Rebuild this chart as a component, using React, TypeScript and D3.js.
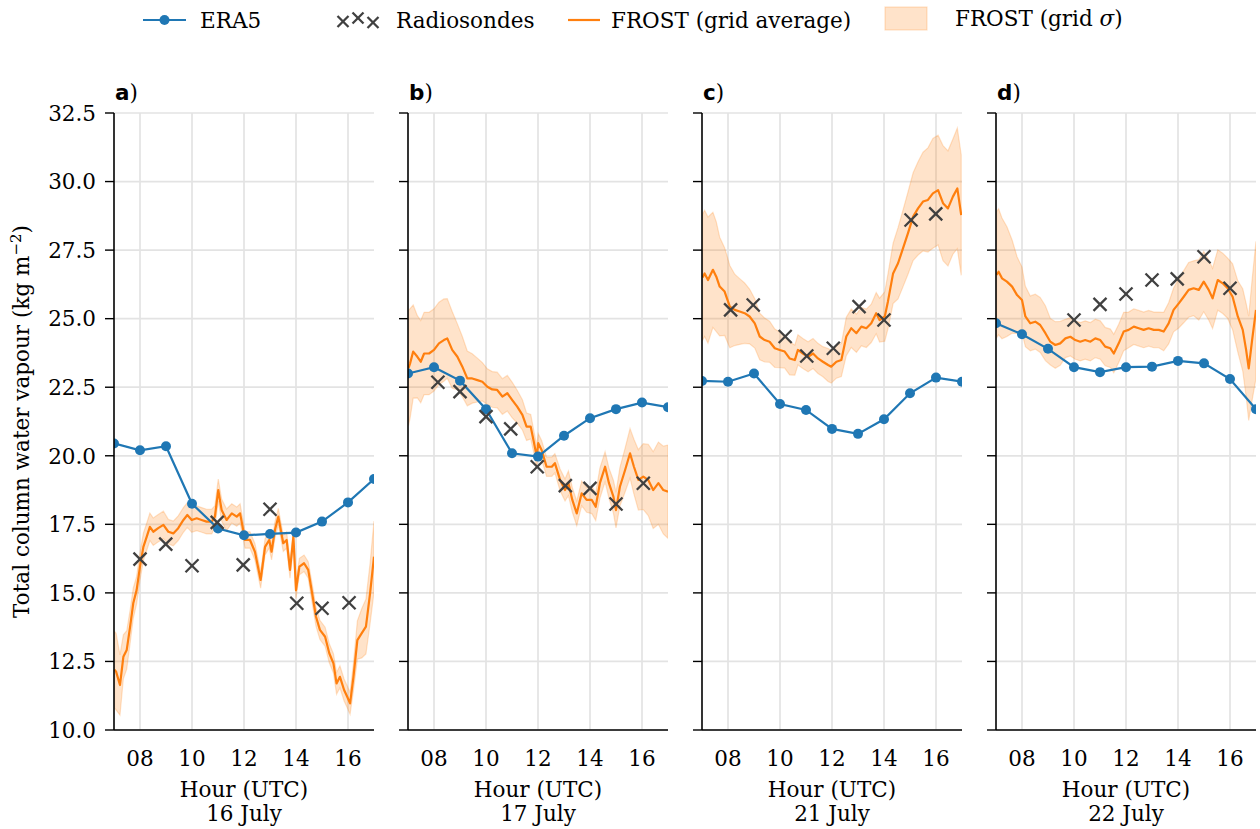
import React from "react";
import * as d3 from "d3";

// ---------- data ----------
const hours = [7, 8, 9, 10, 11, 12, 13, 14, 15, 16, 17];
const panelLetters = ["a", "b", "c", "d"];
const panelDates = ["16 July", "17 July", "21 July", "22 July"];

// ERA5 hourly total column water vapour (kg m-2)
const era5A = [20.45, 20.2, 20.35, 18.25, 17.35, 17.1, 17.15, 17.2, 17.6, 18.3, 19.15];
const era5B = [23.0, 23.23, 22.74, 21.7, 20.09, 19.97, 20.73, 21.37, 21.7, 21.94, 21.77];
const era5C = [22.73, 22.7, 23.0, 21.89, 21.67, 20.98, 20.8, 21.33, 22.28, 22.85, 22.7];
const era5D = [24.83, 24.43, 23.9, 23.23, 23.05, 23.23, 23.25, 23.46, 23.37, 22.8, 21.7];

// Radiosonde launches: [hour, value]
const sondeA: [number, number][] = [
  [8.0, 16.23], [8.99, 16.78], [10.0, 15.99], [10.97, 17.57], [11.97, 16.02],
  [13.0, 18.05], [14.03, 14.62], [15.0, 14.44], [16.04, 14.64],
];
const sondeB: [number, number][] = [
  [8.15, 22.68], [9.0, 22.34], [10.0, 21.43], [10.95, 20.98], [11.97, 19.6],
  [13.05, 18.91], [14.0, 18.81], [15.0, 18.24], [16.05, 19.0],
];
const sondeC: [number, number][] = [
  [8.1, 25.32], [8.97, 25.5], [10.2, 24.35], [11.03, 23.64], [12.05, 23.92],
  [13.04, 25.44], [14.0, 24.95], [15.04, 28.6], [15.99, 28.82],
];
const sondeD: [number, number][] = [
  [10.0, 24.95], [11.0, 25.52], [12.0, 25.9], [13.0, 26.41], [13.97, 26.45],
  [15.0, 27.26], [16.0, 26.11],
];

// FROST grid average and grid standard deviation: [hour, mean, sigma]
const frostA: [number, number, number][] = [
  [7.02, 12.2, 1.4], [7.08, 12.13, 1.4], [7.23, 11.64, 1.1], [7.36, 12.67, 0.8], [7.49, 12.92, 0.7],
  [7.62, 13.77, 0.6], [7.74, 14.62, 0.55], [7.87, 15.1, 0.5], [8.0, 15.96, 0.5], [8.13, 16.68, 0.5],
  [8.26, 17.05, 0.5], [8.38, 17.41, 0.5], [8.51, 17.23, 0.5], [8.7, 17.36, 0.5], [8.9, 17.48, 0.5],
  [9.09, 17.23, 0.45], [9.28, 17.17, 0.45], [9.47, 17.36, 0.45], [9.67, 17.66, 0.45], [9.82, 17.84, 0.45],
  [9.99, 17.66, 0.45], [10.18, 17.72, 0.45], [10.37, 17.66, 0.45], [10.56, 17.6, 0.45], [10.76, 17.6, 0.45],
  [10.88, 17.78, 0.4], [11.01, 18.75, 0.4], [11.14, 18.02, 0.4], [11.33, 17.66, 0.4], [11.53, 17.9, 0.35],
  [11.72, 17.78, 0.35], [11.85, 17.9, 0.35], [12.04, 16.93, 0.3], [12.23, 16.93, 0.3], [12.42, 16.5, 0.3],
  [12.64, 15.47, 0.3], [12.81, 16.68, 0.3], [12.97, 16.93, 0.3], [13.06, 16.5, 0.3], [13.19, 17.29, 0.3],
  [13.32, 17.78, 0.3], [13.51, 16.81, 0.3], [13.64, 16.93, 0.3], [13.77, 15.84, 0.3], [13.9, 17.05, 0.3],
  [14.0, 15.1, 0.3], [14.13, 15.96, 0.3], [14.31, 16.08, 0.3], [14.47, 15.84, 0.3], [14.6, 15.1, 0.35],
  [14.77, 14.13, 0.35], [14.92, 13.65, 0.35], [15.12, 13.4, 0.35], [15.28, 12.8, 0.35], [15.44, 12.43, 0.35],
  [15.56, 11.7, 0.4], [15.69, 11.94, 0.4], [15.85, 11.46, 0.4], [15.97, 11.21, 0.4], [16.08, 10.97, 0.4],
  [16.21, 11.94, 0.5], [16.36, 13.28, 0.7], [16.53, 13.53, 0.9], [16.69, 13.77, 1.0], [16.85, 14.99, 1.1],
  [17.0, 16.32, 1.3],
];
const frostB: [number, number, number][] = [
  [7.02, 23.2, 2.1], [7.08, 23.37, 2.0], [7.2, 23.8, 1.7], [7.36, 23.61, 1.5], [7.49, 23.43, 1.5],
  [7.62, 23.73, 1.5], [7.81, 23.73, 1.5], [8.0, 23.86, 1.5], [8.19, 24.1, 1.5], [8.38, 24.22, 1.5],
  [8.51, 24.28, 1.45], [8.7, 23.86, 1.4], [8.9, 23.61, 1.2], [9.09, 23.25, 1.1], [9.28, 22.82, 1.0],
  [9.47, 22.82, 0.9], [9.67, 22.76, 0.8], [9.86, 22.7, 0.7], [10.05, 22.52, 0.65], [10.24, 22.42, 0.65],
  [10.43, 22.4, 0.65], [10.63, 22.16, 0.65], [10.82, 22.28, 0.65], [11.01, 22.03, 0.65], [11.2, 21.79, 0.6],
  [11.4, 21.49, 0.55], [11.56, 21.06, 0.5], [11.72, 21.06, 0.45], [11.85, 20.46, 0.4], [11.95, 19.97, 0.4],
  [12.01, 20.46, 0.35], [12.14, 20.21, 0.35], [12.33, 19.6, 0.35], [12.53, 19.6, 0.35], [12.65, 19.73, 0.35],
  [12.85, 19.12, 0.4], [13.04, 18.75, 0.4], [13.17, 19.0, 0.45], [13.32, 18.39, 0.45], [13.49, 17.9, 0.45],
  [13.68, 18.63, 0.45], [13.87, 18.39, 0.45], [14.07, 18.39, 0.5], [14.22, 18.14, 0.5], [14.38, 19.0, 0.55],
  [14.58, 19.6, 0.55], [14.73, 19.0, 0.55], [14.9, 18.51, 0.6], [15.0, 18.02, 0.65], [15.15, 18.87, 0.7],
  [15.35, 19.48, 0.8], [15.54, 20.09, 0.9], [15.69, 19.6, 1.0], [15.86, 19.12, 1.1], [16.05, 19.24, 1.2],
  [16.24, 19.12, 1.3], [16.43, 18.75, 1.4], [16.63, 19.0, 1.5], [16.82, 18.75, 1.6], [17.0, 18.69, 1.7],
];
const frostC: [number, number, number][] = [
  [7.02, 26.5, 2.3], [7.1, 26.65, 2.3], [7.23, 26.41, 2.3], [7.42, 26.78, 2.1], [7.55, 26.53, 2.0],
  [7.68, 26.17, 1.8], [7.87, 25.99, 1.6], [8.07, 25.44, 1.5], [8.26, 25.32, 1.3], [8.45, 25.26, 1.2],
  [8.64, 25.2, 1.1], [8.83, 25.08, 1.0], [9.03, 24.83, 0.9], [9.22, 24.35, 0.85], [9.41, 24.22, 0.8],
  [9.6, 24.16, 0.75], [9.8, 23.92, 0.7], [9.99, 23.86, 0.65], [10.18, 23.8, 0.6], [10.37, 23.55, 0.6],
  [10.57, 23.49, 0.55], [10.69, 23.86, 0.55], [10.88, 23.73, 0.55], [11.08, 23.61, 0.55], [11.27, 23.73, 0.55],
  [11.46, 23.55, 0.55], [11.65, 23.43, 0.55], [11.85, 23.31, 0.6], [11.97, 23.25, 0.6], [12.17, 23.43, 0.6],
  [12.36, 23.49, 0.6], [12.55, 24.35, 0.7], [12.74, 24.65, 0.7], [12.94, 24.47, 0.7], [13.13, 24.71, 0.7],
  [13.32, 24.65, 0.7], [13.51, 24.83, 0.7], [13.7, 25.2, 0.75], [13.83, 24.95, 0.8], [14.03, 25.08, 0.9],
  [14.15, 25.62, 1.0], [14.35, 26.65, 1.1], [14.54, 27.02, 1.3], [14.73, 27.56, 1.4], [14.92, 28.11, 1.5],
  [15.12, 28.72, 1.6], [15.31, 29.02, 1.7], [15.5, 29.27, 1.8], [15.69, 29.33, 1.9], [15.88, 29.57, 2.0],
  [16.08, 29.69, 2.0], [16.27, 29.21, 2.1], [16.46, 29.02, 2.1], [16.65, 29.45, 2.1], [16.82, 29.75, 2.2],
  [16.97, 28.78, 2.2],
];
const frostD: [number, number, number][] = [
  [7.02, 26.6, 2.3], [7.1, 26.71, 2.3], [7.23, 26.47, 2.2], [7.42, 26.35, 2.0], [7.62, 26.17, 1.7],
  [7.81, 25.86, 1.4], [8.0, 25.68, 1.2], [8.13, 25.08, 1.1], [8.32, 24.83, 1.0], [8.51, 24.89, 1.0],
  [8.7, 24.77, 1.0], [8.9, 24.47, 1.0], [9.09, 24.16, 0.85], [9.28, 24.04, 0.85], [9.47, 24.1, 0.8],
  [9.67, 24.28, 0.7], [9.86, 24.34, 0.7], [10.05, 24.22, 0.7], [10.24, 24.16, 0.7], [10.43, 24.22, 0.7],
  [10.63, 24.16, 0.7], [10.82, 24.28, 0.7], [11.01, 24.22, 0.7], [11.2, 23.98, 0.7], [11.4, 23.92, 0.7],
  [11.53, 23.73, 0.7], [11.72, 24.1, 0.7], [11.91, 24.53, 0.7], [12.1, 24.59, 0.65], [12.3, 24.71, 0.65],
  [12.49, 24.65, 0.65], [12.68, 24.59, 0.65], [12.87, 24.65, 0.65], [13.07, 24.59, 0.65], [13.26, 24.59, 0.65],
  [13.45, 24.53, 0.7], [13.64, 24.83, 0.75], [13.83, 25.32, 0.8], [14.03, 25.56, 0.9], [14.22, 25.8, 0.95],
  [14.41, 26.05, 1.0], [14.6, 26.11, 1.0], [14.8, 26.05, 1.1], [14.99, 26.35, 1.1], [15.18, 26.05, 1.1],
  [15.33, 25.74, 1.1], [15.53, 26.41, 1.1], [15.72, 26.29, 1.1], [15.91, 26.11, 1.1], [16.1, 25.8, 1.2],
  [16.3, 25.08, 1.3], [16.49, 24.59, 1.5], [16.62, 23.86, 1.7], [16.72, 23.19, 1.9], [16.85, 24.22, 2.2],
  [17.0, 25.32, 2.5],
];

const era5Series = [era5A, era5B, era5C, era5D];
const sondeSeries = [sondeA, sondeB, sondeC, sondeD];
const frostSeries = [frostA, frostB, frostC, frostD];

const yTicks = [10, 12.5, 15, 17.5, 20, 22.5, 25, 27.5, 30, 32.5];
const xTicks = [8, 10, 12, 14, 16];

// ---------- layout ----------
const W = 1260;
const H = 829;
const panelLeft0 = 114;
const panelStep = 294;
const panelW = 260;
const plotTop = 113;
const plotBottom = 730;

const BLUE = "#1f77b4";
const ORANGE = "#ff7f0e";
const SONDE = "#404040";
const GRID = "#e3e3e3";
const SERIF = "'DejaVu Serif', serif";
const SANS = "'DejaVu Sans', sans-serif";
const FS = 21.5;

function Cross({ x, y, s = 6.5 }: { x: number; y: number; s?: number }) {
  return (
    <g stroke={SONDE} strokeWidth={2.3} strokeLinecap="butt">
      <line x1={x - s} y1={y - s} x2={x + s} y2={y + s} />
      <line x1={x - s} y1={y + s} x2={x + s} y2={y - s} />
    </g>
  );
}

function Panel({ i }: { i: number }) {
  const left = panelLeft0 + i * panelStep;
  const x = d3.scaleLinear().domain([7, 17]).range([left, left + panelW]);
  const y = d3.scaleLinear().domain([10, 32.5]).range([plotBottom, plotTop]);
  const clipId = `clip-${i}`;

  const era = era5Series[i];
  const frost = frostSeries[i];
  const sondes = sondeSeries[i];

  const eraLine = d3
    .line<number>()
    .x((_, k) => x(hours[k]))
    .y((v) => y(v));
  const meanLine = d3
    .line<[number, number, number]>()
    .x((d) => x(d[0]))
    .y((d) => y(d[1]));
  const band = d3
    .area<[number, number, number]>()
    .x((d) => x(d[0]))
    .y0((d) => y(d[1] - d[2]))
    .y1((d) => y(d[1] + d[2]));

  const cx = left + panelW / 2;

  return (
    <g>
      <defs>
        <clipPath id={clipId}>
          <rect x={left} y={plotTop} width={panelW} height={plotBottom - plotTop} />
        </clipPath>
      </defs>
      {/* grid */}
      <g stroke={GRID} strokeWidth={1.7}>
        {yTicks.map((t) => (
          <line key={"gy" + t} x1={left} x2={left + panelW} y1={y(t)} y2={y(t)} />
        ))}
        {xTicks.map((t) => (
          <line key={"gx" + t} x1={x(t)} x2={x(t)} y1={plotTop} y2={plotBottom} />
        ))}
      </g>
      {/* data */}
      <g clipPath={`url(#${clipId})`}>
        <path
          d={band(frost) ?? ""}
          fill={ORANGE}
          fillOpacity={0.22}
          stroke={ORANGE}
          strokeOpacity={0.22}
          strokeWidth={1.2}
        />
        <path d={meanLine(frost) ?? ""} fill="none" stroke={ORANGE} strokeWidth={2.2} strokeLinejoin="round" />
        <path d={eraLine(era) ?? ""} fill="none" stroke={BLUE} strokeWidth={2.2} />
        {era.map((v, k) => (
          <circle key={"e" + k} cx={x(hours[k])} cy={y(v)} r={5} fill={BLUE} />
        ))}
        {sondes.map((d, k) => (
          <Cross key={"s" + k} x={x(d[0])} y={y(d[1])} />
        ))}
      </g>
      {/* spines */}
      <line x1={left} x2={left} y1={plotTop} y2={plotBottom} stroke="#000" strokeWidth={1.6} />
      <line x1={left} x2={left + panelW} y1={plotBottom} y2={plotBottom} stroke="#000" strokeWidth={1.6} />
      {/* y ticks */}
      {yTicks.map((t) => (
        <g key={"yt" + t}>
          <line x1={left - 9} x2={left} y1={y(t)} y2={y(t)} stroke="#000" strokeWidth={1.4} />
          {i === 0 && (
            <text x={left - 18} y={y(t)} dy="0.36em" textAnchor="end" fontFamily={SERIF} fontSize={FS}>
              {t.toFixed(1)}
            </text>
          )}
        </g>
      ))}
      {/* x tick labels */}
      {xTicks.map((t) => (
        <text key={"xt" + t} x={x(t)} y={766} textAnchor="middle" fontFamily={SERIF} fontSize={FS}>
          {String(t).padStart(2, "0")}
        </text>
      ))}
      <text x={cx} y={797} textAnchor="middle" fontFamily={SERIF} fontSize={FS}>
        Hour (UTC)
      </text>
      <text x={cx} y={821} textAnchor="middle" fontFamily={SERIF} fontSize={FS}>
        {panelDates[i]}
      </text>
      {/* panel letter */}
      <text x={left + 1} y={100} fontSize={FS}>
        <tspan fontFamily={SANS} fontWeight="bold">{panelLetters[i]}</tspan>
        <tspan fontFamily={SERIF}>)</tspan>
      </text>
    </g>
  );
}

function Legend() {
  const ly = 20;
  return (
    <g fontFamily={SERIF} fontSize={FS}>
      <line x1={143} x2={186} y1={ly} y2={ly} stroke={BLUE} strokeWidth={2.2} />
      <circle cx={164.5} cy={ly} r={5} fill={BLUE} />
      <text x={200} y={ly} dy="0.36em">ERA5</text>

      <Cross x={343} y={ly + 1.5} s={5.5} />
      <Cross x={358} y={ly - 2} s={5.5} />
      <Cross x={373} y={ly + 2.5} s={5.5} />
      <text x={396} y={ly} dy="0.36em">Radiosondes</text>

      <line x1={568} x2={600} y1={ly} y2={ly} stroke={ORANGE} strokeWidth={2.2} />
      <text x={611} y={ly} dy="0.36em">FROST (grid average)</text>

      <rect x={885} y={7} width={42} height={23} fill={ORANGE} fillOpacity={0.22} stroke={ORANGE} strokeOpacity={0.22} strokeWidth={1.2} />
      <text x={955} y={ly - 2} dy="0.36em">
        FROST (grid <tspan fontStyle="italic">σ</tspan>)
      </text>
    </g>
  );
}

export default function App() {
  const panels = [0, 1, 2, 3];
  const yMid = (plotTop + plotBottom) / 2;
  return (
    <div style={{ position: "absolute", left: 0, top: 0 }}>
      <svg width={W} height={H} viewBox={`0 0 ${W} ${H}`} style={{ display: "block", background: "#fff" }}>
        <rect width={W} height={H} fill="#fff" />
        <Legend />
        {panels.map((i) => (
          <Panel key={i} i={i} />
        ))}
        <text
          transform={`translate(29, ${yMid}) rotate(-90)`}
          textAnchor="middle"
          fontFamily={SERIF}
          fontSize={FS}
        >
          Total column water vapour (kg m
          <tspan dy={-8} fontSize={15}>−2</tspan>
          <tspan dy={8}>)</tspan>
        </text>
      </svg>
    </div>
  );
}
